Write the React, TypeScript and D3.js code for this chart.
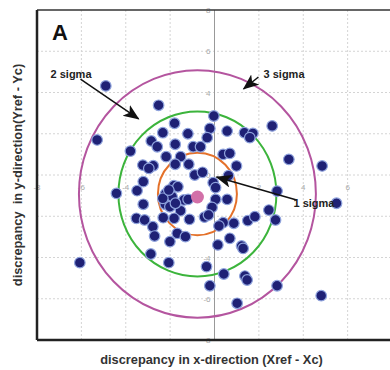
import React, { useEffect, useRef } from 'react';
import * as d3 from 'd3';

// discrepancy points (x, y)
const pointsX = [
  -4.90, -2.52, -5.29, -0.03, -0.21, -1.80, -2.33, -1.20, 0.57, -0.33,
  1.35, 1.73, 1.59, 2.60, -2.85, -2.58, -1.77, -0.96, -0.63, -3.79,
  -2.18, -1.53, 0.39, 0.69, 3.35, 4.85, -3.23, -2.76, -2.96, -1.77,
  -1.16, 0.99, -0.89, -0.54, 0.63, -3.21, -0.06, -1.83, -1.65, -3.49,
  -4.42, -2.21, -1.91, 0.05, -1.38, -1.19, -2.22, -2.01, -1.53, -3.21,
  0.05, 0.57, -0.11, 2.82, 5.50, 2.45, -3.52, -3.15, -2.31, -1.82,
  -1.13, -0.45, -0.27, 0.39, 0.20, 1.50, 1.82, 2.75, -2.78, -2.70,
  -1.68, -1.31, -2.01, 0.69, 1.22, 1.29, 0.15, -2.87, -2.06, -6.07,
  -0.36, 0.42, 1.37, 1.47, -0.21, 2.82, 4.81, 1.02, -2.33, -2.06,
  -1.76, 0.87,
];
const pointsY = [
  4.32, 3.38, 1.70, 2.86, 2.26, 2.51, 2.05, 2.00, 2.13, 1.81,
  2.05, 2.02, 1.81, 2.38, 1.65, 1.37, 1.49, 1.37, 1.37, 1.16,
  0.89, 0.89, 1.00, 1.05, 0.76, 0.44, 0.48, 0.45, 0.32, 0.52,
  0.52, 0.44, 0.00, 0.13, -0.03, -0.32, -0.37, -0.52, -0.57, -0.76,
  -0.89, -0.92, -1.05, -0.61, -1.21, -1.18, -1.42, -1.54, -1.73, -1.42,
  -1.18, -1.18, -1.57, -0.78, -1.37, -1.70, -2.10, -2.18, -2.07, -2.10,
  -2.15, -2.04, -1.94, -2.31, -2.47, -2.21, -2.02, -2.18, -2.51, -2.96,
  -2.83, -2.99, -3.23, -3.07, -3.44, -3.56, -3.39, -3.83, -4.25, -4.25,
  -4.44, -4.80, -4.90, -5.09, -5.37, -5.37, -5.85, -6.22, -1.13, -0.73,
  -1.37, -2.34,
];

const center = [-0.77, -0.92];
const sigmaX = 1.78;
const sigmaY = 2.0;
const sigmaLevels = [3, 2, 1];
const sigmaColors = ['#b4559f', '#3cb43c', '#e4712a'];

const ticks = [-8, -6, -4, -2, 0, 2, 4, 6, 8];

const annoText = ['2 sigma', '3 sigma', '1 sigma'];
const annoTextX = [-7.39, 2.21, 3.56];
const annoTextY = [4.70, 4.70, -1.55];
const arrowFromX = [-6.04, 1.98, 3.70];
const arrowFromY = [4.65, 4.75, -1.21];
const arrowToX = [-3.42, 1.31, 0.09];
const arrowToY = [2.72, 4.17, -0.10];

const W = 390;
const H = 370;

const App = () => {
  const svgRef = useRef<SVGSVGElement>(null);

  useEffect(() => {
    if (!svgRef.current) return;
    const svg = d3.select(svgRef.current);
    svg.selectAll('*').remove();

    const left = 37, right = 392, top = 10, bottom = 340;
    const x = d3.scaleLinear().domain([-8, 8]).range([left, right]);
    const y = d3.scaleLinear().domain([-8, 8]).range([bottom, top]);

    svg.append('rect').attr('width', W).attr('height', H).attr('fill', '#fff');

    const defs = svg.append('defs');
    defs.append('marker')
      .attr('id', 'head')
      .attr('markerUnits', 'userSpaceOnUse')
      .attr('markerWidth', 18)
      .attr('markerHeight', 14)
      .attr('refX', 15)
      .attr('refY', 6.5)
      .attr('orient', 'auto')
      .append('path')
      .attr('d', 'M0,0 L16,6.5 L0,13 L4,6.5 Z')
      .attr('fill', '#111');

    // grid
    const grid = svg.append('g');
    ticks.filter(t => t > -8 && t < 8 && t !== 0).forEach(t => {
      grid.append('line')
        .attr('x1', x(t)).attr('x2', x(t)).attr('y1', top).attr('y2', bottom)
        .attr('stroke', '#d4d4d4').attr('stroke-dasharray', '2,2');
    });
    ticks.filter(t => t > -8 && t < 8).forEach(t => {
      grid.append('line')
        .attr('x1', left).attr('x2', right).attr('y1', y(t)).attr('y2', y(t))
        .attr('stroke', '#d4d4d4').attr('stroke-dasharray', '2,2');
    });
    grid.append('line')
      .attr('x1', x(0)).attr('x2', x(0)).attr('y1', top).attr('y2', bottom)
      .attr('stroke', '#999').attr('stroke-width', 1);

    // tick labels
    const tl = svg.append('g')
      .attr('font-family', 'Liberation Sans, Arial, sans-serif')
      .attr('font-size', 8)
      .attr('fill', '#aaa');
    ticks.filter(t => t !== 0 && t !== 8).forEach(t => {
      tl.append('text').attr('x', x(t)).attr('y', y(0) + 15)
        .attr('text-anchor', 'middle').text(t);
    });
    ticks.filter(t => t !== -2 && t !== 2).forEach(t => {
      tl.append('text').attr('x', x(0) - 4).attr('y', y(t) + 3)
        .attr('text-anchor', 'end').text(Math.abs(t) === 8 ? 8 : t);
    });

    // sigma ellipses
    svg.append('g').selectAll('ellipse')
      .data(sigmaLevels)
      .enter()
      .append('ellipse')
      .attr('cx', x(center[0]))
      .attr('cy', y(center[1]))
      .attr('rx', d => x(center[0] + d * sigmaX) - x(center[0]))
      .attr('ry', d => y(center[1]) - y(center[1] + d * sigmaY))
      .attr('fill', 'none')
      .attr('stroke', (d, i) => sigmaColors[i])
      .attr('stroke-width', 2);

    // points
    svg.append('g').selectAll('circle')
      .data(pointsX.map((v, i) => [v, pointsY[i]]))
      .enter()
      .append('circle')
      .attr('cx', d => x(d[0]))
      .attr('cy', d => y(d[1]))
      .attr('r', 5.3)
      .attr('fill', '#1f2175')
      .attr('stroke', '#8fa3dd')
      .attr('stroke-width', 1.2);

    svg.append('circle')
      .attr('cx', x(center[0]))
      .attr('cy', y(center[1]) + 3)
      .attr('r', 6.5)
      .attr('fill', '#d270a8');

    // annotations
    const an = svg.append('g');
    annoText.forEach((t, i) => {
      an.append('line')
        .attr('x1', x(arrowFromX[i])).attr('y1', y(arrowFromY[i]))
        .attr('x2', x(arrowToX[i])).attr('y2', y(arrowToY[i]))
        .attr('stroke', '#111').attr('stroke-width', 1.5)
        .attr('marker-end', 'url(#head)');
      an.append('text')
        .attr('x', x(annoTextX[i])).attr('y', y(annoTextY[i]))
        .attr('font-family', 'Liberation Sans, Arial, sans-serif')
        .attr('font-weight', 'bold').attr('font-size', 11)
        .attr('fill', '#222')
        .text(t);
    });

    // frame
    svg.append('line').attr('x1', left).attr('x2', W).attr('y1', top).attr('y2', top)
      .attr('stroke', '#333').attr('stroke-width', 1.5);
    svg.append('line').attr('x1', left).attr('x2', left).attr('y1', top).attr('y2', bottom)
      .attr('stroke', '#222').attr('stroke-width', 2.5);
    svg.append('line').attr('x1', left).attr('x2', W).attr('y1', bottom).attr('y2', bottom)
      .attr('stroke', '#222').attr('stroke-width', 2.5);

    svg.append('text')
      .attr('x', 52).attr('y', 40)
      .attr('font-family', 'Liberation Sans, Arial, sans-serif')
      .attr('font-weight', 'bold')
      .attr('font-size', 22).attr('fill', '#111')
      .text('A');

    // axis titles
    svg.append('text')
      .attr('x', (left + right) / 2 - 3).attr('y', 364)
      .attr('text-anchor', 'middle')
      .attr('font-family', 'Liberation Sans, Arial, sans-serif')
      .attr('font-weight', 'bold').attr('font-size', 12.8)
      .attr('fill', '#333')
      .text('discrepancy in x-direction (Xref - Xc)');
    svg.append('text')
      .attr('transform', `translate(22, ${(top + bottom) / 2}) rotate(-90)`)
      .attr('text-anchor', 'middle')
      .attr('font-family', 'Liberation Sans, Arial, sans-serif')
      .attr('font-weight', 'bold').attr('font-size', 12.8)
      .attr('fill', '#333')
      .attr('xml:space', 'preserve')
      .style('white-space', 'pre')
      .text('discrepancy  in y-direction(Yref - Yc)');
  }, []);

  return (
    <svg ref={svgRef} width={W} height={H}
      style={{ position: 'absolute', left: 0, top: 0, display: 'block' }} />
  );
};

export default App;
